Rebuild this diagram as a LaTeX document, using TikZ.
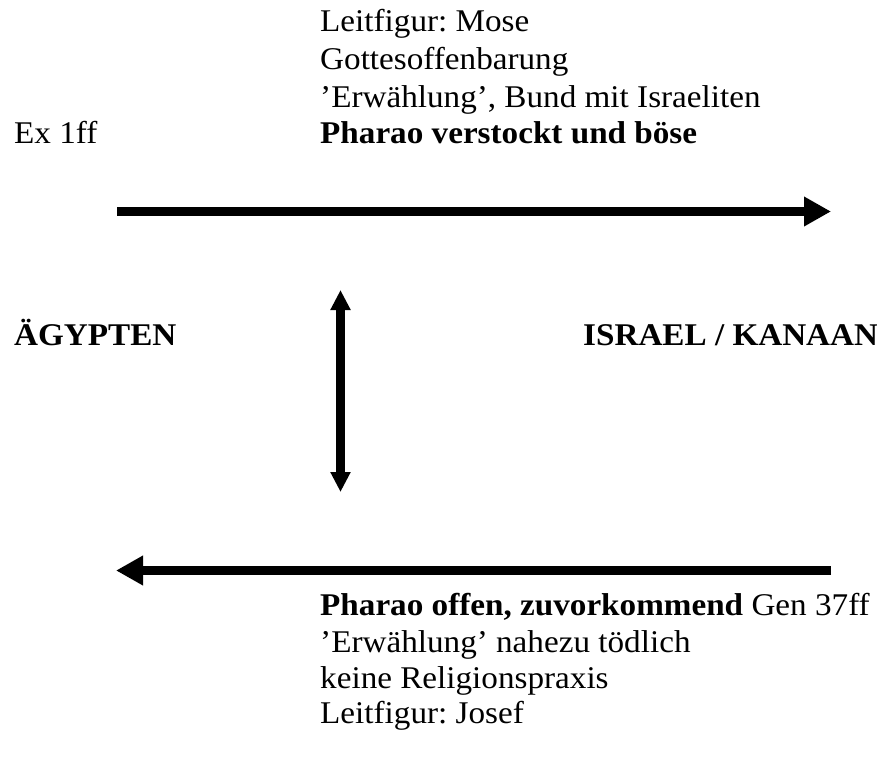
\documentclass[tikz,border=0pt]{standalone}
\usepackage{fontspec}
\setmainfont{Liberation Serif}[FakeStretch=1.05]
\usetikzlibrary{arrows.meta}
\frenchspacing
\begin{document}
\begin{tikzpicture}[x=1pt,y=-1pt,
  txt/.style={anchor=base west,inner sep=0pt,font=\fontsize{31.6}{37}\selectfont},
  bigarrow/.style={line width=9pt,-{Triangle[length=27pt,width=28pt]}},
  vertarrow/.style={line width=9pt,{Triangle[length=20pt,width=19pt]}-{Triangle[length=20pt,width=19pt]}}]
\useasboundingbox[fill=white] (0,0) rectangle (877,757);
% top text
\node[txt] (l1) at (320,32) {Leitfigur: Mose};
\node[txt] (l2) at (320,70) {Gottesoffenbarung};
\node[txt] (l3) at (320,107) {'Erwählung', Bund mit Israeliten};
\node[txt] (ex) at (14,143) {Ex 1ff};
\node[txt] (l4) at (320,143) {\bfseries Pharao verstockt und böse};
% places
\node[txt] (egypt) at (14,345) {\bfseries ÄGYPTEN};
\node[txt] (israel) at (583,345) {\bfseries ISRAEL / KANAAN};
% bottom text
\node[txt] (b1) at (320,615) {\bfseries Pharao offen, zuvorkommend\mdseries{} Gen 37ff};
\node[txt] (b2) at (320,652) {'Erwählung' nahezu tödlich};
\node[txt] (b3) at (320,688) {keine Religionspraxis};
\node[txt] (b4) at (320,723) {Leitfigur: Josef};
% arrow ends
\coordinate (ta) at (117,211.5);
\coordinate (tb) at (831,211.5);
\coordinate (ba) at (831,570.5);
\coordinate (bb) at (116,570.5);
\coordinate (va) at (340.5,290);
\coordinate (vb) at (340.5,492);
\draw[bigarrow] (ta) -- (tb);
\draw[bigarrow] (ba) -- (bb);
\draw[vertarrow] (va) -- (vb);
\end{tikzpicture}
\end{document}
